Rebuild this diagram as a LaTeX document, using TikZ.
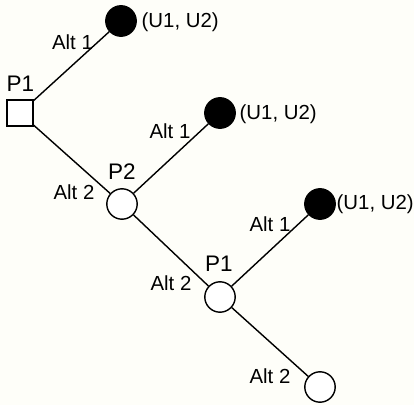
\documentclass[tikz,border=0pt]{standalone}
\usepackage{fontspec}
\setmainfont{Liberation Sans}
\usepackage{tikz}

\begin{document}
\begin{tikzpicture}[x=0.025cm, y=-0.025cm, line width=1pt,
        decision/.style={draw, rectangle, fill=white, minimum size=0.64cm, inner sep=0pt},
        chance/.style={draw, circle, fill=white, minimum size=0.76cm, inner sep=0pt},
        payoff/.style={draw, circle, fill=black, minimum size=0.76cm, inner sep=0pt},
        alt/.style={font=\fontsize{14.5}{16}\selectfont, inner sep=0pt},
        player/.style={font=\fontsize{16}{18}\selectfont, inner sep=0pt},
        pay/.style={font=\fontsize{14.5}{16}\selectfont, inner sep=0pt, anchor=west}]
    % background and margins
    \fill[fill={rgb,255:red,254;green,254;blue,249}] (0,0) rectangle (414,405);

    % first move of P1
    \node[decision] (p1a) at (20,113) {};
    \node[payoff] (u1) at (121,21) {};
    \node[player] (lp1a) at (20.5,84) {P1};
    \node[pay] (t1) at (141,22) {(U1, U2)};

    % move of P2
    \node[chance] (p2) at (122,204) {};
    \node[payoff] (u2) at (220,113) {};
    \node[player] (lp2) at (122,172) {P2};
    \node[pay] (t2) at (239,114) {(U1, U2)};

    % second move of P1
    \node[chance] (p1b) at (220,297) {};
    \node[payoff] (u3) at (320,204) {};
    \node[chance] (end) at (320,387) {};
    \node[player] (lp1b) at (219,264) {P1};
    \node[pay] (t3) at (336,204) {(U1, U2)};

    % branches
    \draw (p1a) -- (u1);
    \draw (p1a) -- (p2);
    \draw (p2) -- (u2);
    \draw (p2) -- (p1b);
    \draw (p1b) -- (u3);
    \draw (p1b) -- (end);

    % labels of the branches
    \node[alt] (a11) at (72.5,42.5) {Alt 1};
    \node[alt] (a21) at (74,192) {Alt 2};
    \node[alt] (a12) at (170,131) {Alt 1};
    \node[alt] (a22) at (171,283) {Alt 2};
    \node[alt] (a13) at (270,224) {Alt 1};
    \node[alt] (a23) at (270,376) {Alt 2};
\end{tikzpicture}
\end{document}
